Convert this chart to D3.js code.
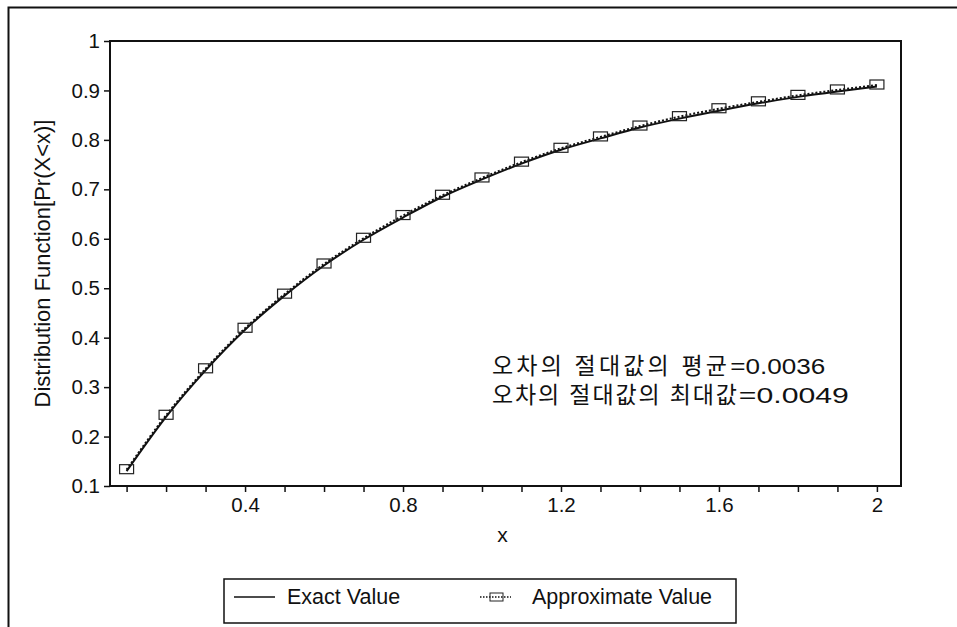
<!DOCTYPE html>
<html>
<head>
<meta charset="utf-8">
<script src="https://cdn.jsdelivr.net/npm/d3@7/dist/d3.min.js"></script>
<style>
  body { margin: 0; background: #fff; }
  text { font-family: "Liberation Sans", Arial, "Noto Sans CJK KR", sans-serif; fill: #111; }
</style>
</head>
<body>
<div class="chart"></div>
<script>
  // values
  const xValues = [0.1, 0.2, 0.3, 0.4, 0.5, 0.6, 0.7, 0.8, 0.9, 1.0,
                   1.1, 1.2, 1.3, 1.4, 1.5, 1.6, 1.7, 1.8, 1.9, 2.0];
  const exactValues = [0.130, 0.240, 0.334, 0.416, 0.485, 0.546, 0.598, 0.643, 0.685, 0.720,
                       0.752, 0.780, 0.803, 0.825, 0.843, 0.859, 0.874, 0.887, 0.898, 0.908];
  const approxValues = [0.133, 0.243, 0.337, 0.419, 0.488, 0.549, 0.601, 0.647, 0.688, 0.723,
                        0.755, 0.783, 0.806, 0.828, 0.847, 0.863, 0.877, 0.890, 0.901, 0.911];
  const yTicks = [0.1, 0.2, 0.3, 0.4, 0.5, 0.6, 0.7, 0.8, 0.9, 1];
  const xLabelled = [0.4, 0.8, 1.2, 1.6, 2];
  const seriesNames = ["Exact Value", "Approximate Value"];
  const noteWords = ["오차의  절대값의  평균", "오차의  절대값의  최대값"];
  const noteNumbers = ["=0.0036", "=0.0049"];

  const W = 957, H = 627;
  const plot = {left: 110, right: 901, top: 41, bottom: 486};

  const x = d3.scaleLinear()
    .domain([0.058, 2.061])
    .range([plot.left, plot.right]);

  const y = d3.scaleLinear()
    .domain([0.1, 1])
    .range([plot.bottom, plot.top]);

  const svg = d3.select(".chart").append("svg")
    .attr("width", W)
    .attr("height", H);

  // outer frame (runs off the page right and bottom)
  svg.append("path")
    .attr("d", "M8.5," + (H + 5) + " V7.5 H" + (W + 5))
    .attr("fill", "none")
    .attr("stroke", "#111")
    .attr("stroke-width", 2);

  // axes
  const xAxis = d3.axisBottom(x)
    .tickValues(xValues)
    .tickSize(6)
    .tickSizeOuter(0)
    .tickPadding(5)
    .tickFormat(d => xLabelled.includes(d) ? String(d) : "");

  const yAxis = d3.axisLeft(y)
    .tickValues(yTicks)
    .tickSize(6)
    .tickSizeOuter(0)
    .tickPadding(4)
    .tickFormat(d => String(d));

  const gx = svg.append("g")
    .attr("transform", "translate(0," + plot.bottom + ")")
    .call(xAxis);
  const gy = svg.append("g")
    .attr("transform", "translate(" + plot.left + ",0)")
    .call(yAxis);

  [gx, gy].forEach(g => {
    g.select(".domain").remove();
    g.selectAll(".tick line").attr("stroke", "#111").attr("stroke-width", 1.5);
    g.selectAll(".tick text")
      .attr("font-size", 20.5)
      .attr("font-family", "Liberation Sans, Arial, sans-serif")
      .attr("fill", "#111");
  });

  svg.append("rect")
    .attr("x", plot.left)
    .attr("y", plot.top)
    .attr("width", plot.right - plot.left)
    .attr("height", plot.bottom - plot.top)
    .attr("fill", "none")
    .attr("stroke", "#111")
    .attr("stroke-width", 2);

  // axis titles
  svg.append("text")
    .attr("x", (plot.left + plot.right) / 2 - 3)
    .attr("y", 542)
    .attr("text-anchor", "middle")
    .attr("font-size", 21)
    .text("x");

  svg.append("text")
    .attr("transform", "translate(50," + ((plot.top + plot.bottom) / 2) + ") rotate(-90)")
    .attr("text-anchor", "middle")
    .attr("font-size", 22)
    .text("Distribution Function[Pr(X<x)]");

  // lines
  const exactLine = d3.line()
    .x((d, i) => x(xValues[i]))
    .y(d => y(d))
    .curve(d3.curveMonotoneX);

  svg.append("path")
    .datum(exactValues)
    .attr("d", exactLine)
    .attr("fill", "none")
    .attr("stroke", "#111")
    .attr("stroke-width", 2);

  svg.append("path")
    .datum(approxValues)
    .attr("d", exactLine)
    .attr("fill", "none")
    .attr("stroke", "#111")
    .attr("stroke-width", 2)
    .attr("stroke-dasharray", "2,2");

  svg.selectAll(".marker")
    .data(approxValues)
    .enter().append("rect")
    .attr("class", "marker")
    .attr("x", (d, i) => x(xValues[i]) - 7)
    .attr("y", d => y(d) - 5)
    .attr("width", 14)
    .attr("height", 9)
    .attr("fill", "none")
    .attr("stroke", "#222")
    .attr("stroke-width", 1.2);

  // error note
  const wordWidths = [235, 245];
  const numberWidths = [95, 110];
  noteWords.forEach((t, i) => {
    const line = svg.append("text")
      .attr("x", 492)
      .attr("y", 374 + i * 29)
      .attr("font-size", 23);
    line.append("tspan")
      .attr("textLength", wordWidths[i])
      .attr("lengthAdjust", "spacing")
      .text(t);
    line.append("tspan")
      .attr("font-size", 22)
      .attr("textLength", numberWidths[i])
      .attr("lengthAdjust", "spacingAndGlyphs")
      .text(noteNumbers[i]);
  });

  // legend
  const legend = svg.append("g");
  legend.append("rect")
    .attr("x", 224)
    .attr("y", 579)
    .attr("width", 512)
    .attr("height", 44)
    .attr("fill", "none")
    .attr("stroke", "#111")
    .attr("stroke-width", 1.5);

  legend.append("line")
    .attr("x1", 234).attr("x2", 275)
    .attr("y1", 597).attr("y2", 597)
    .attr("stroke", "#111")
    .attr("stroke-width", 1.5);
  legend.append("text")
    .attr("x", 287)
    .attr("y", 604)
    .attr("font-size", 21.5)
    .text(seriesNames[0]);

  legend.append("line")
    .attr("x1", 480).attr("x2", 511)
    .attr("y1", 597).attr("y2", 597)
    .attr("stroke", "#111")
    .attr("stroke-width", 1.5)
    .attr("stroke-dasharray", "1.5,1.5");
  legend.append("rect")
    .attr("x", 490).attr("y", 593)
    .attr("width", 13).attr("height", 8)
    .attr("fill", "none")
    .attr("stroke", "#222")
    .attr("stroke-width", 1);
  legend.append("text")
    .attr("x", 532)
    .attr("y", 604)
    .attr("font-size", 21.5)
    .text(seriesNames[1]);
</script>
</body>
</html>
